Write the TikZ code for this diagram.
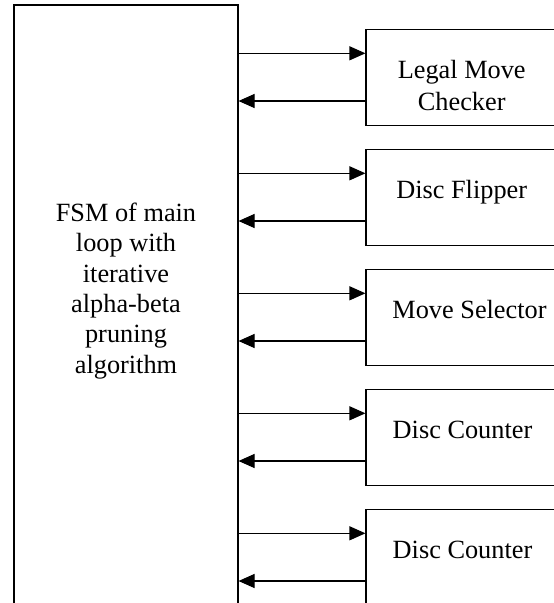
\documentclass[tikz,border=0pt]{standalone}
\usepackage{fontspec}
\setmainfont{Liberation Serif}
\usetikzlibrary{arrows.meta,calc}
\begin{document}
\begin{tikzpicture}[x=1pt,y=1pt,
  box/.style={draw, line width=1.1pt, rectangle, inner sep=0pt},
  module/.style={box, minimum width=200pt, minimum height=96pt},
  lbl/.style={font=\fontsize{26.3}{31.7}\selectfont, align=center, inner sep=0pt},
  flow/.style={line width=1.1pt, -{Triangle[length=16pt,width=14pt]}}]
\clip (0,0) rectangle (554,-603);
\useasboundingbox (0,0) rectangle (554,-603);

% main controller block (runs past the lower edge)
\node[box, minimum width=224pt, minimum height=640pt] (fsm) at (126,-325) {};
% base anchor of a multi-line node sits on its last line
\node[lbl, font=\fontsize{26.3}{30.3}\selectfont, anchor=base] (fsmtext) at (126,-373)
  {FSM of main\\loop with\\iterative\\alpha-beta\\pruning\\algorithm};

% helper modules
\node[module] (m1) at (466,-77.3) {};
\node[module] (m2) at (466,-197.3) {};
\node[module] (m3) at (466,-317.3) {};
\node[module] (m4) at (466,-437.3) {};
\node[module] (m5) at (466,-557.3) {};

\node[lbl, anchor=base] (t1) at (461.7,-110) {Legal Move\\Checker};
\node[lbl, anchor=base] (t2) at (461.7,-198.3) {Disc Flipper};
\node[lbl, anchor=base] (t3) at (469.5,-318.3) {Move Selector};
\node[lbl, anchor=base] (t4) at (462.5,-438.3) {Disc Counter};
\node[lbl, anchor=base] (t5) at (462.5,-558.3) {Disc Counter};

% request / reply arrows
\foreach \m in {m1,m2,m3,m4,m5}{
  \draw[flow] ($(fsm.east |- \m.west)+(0,24)$) -- ($(\m.west)+(0,24)$);
  \draw[flow] ($(\m.west)+(0,-23.7)$) -- ($(fsm.east |- \m.west)+(0,-23.7)$);
}
\end{tikzpicture}
\end{document}
